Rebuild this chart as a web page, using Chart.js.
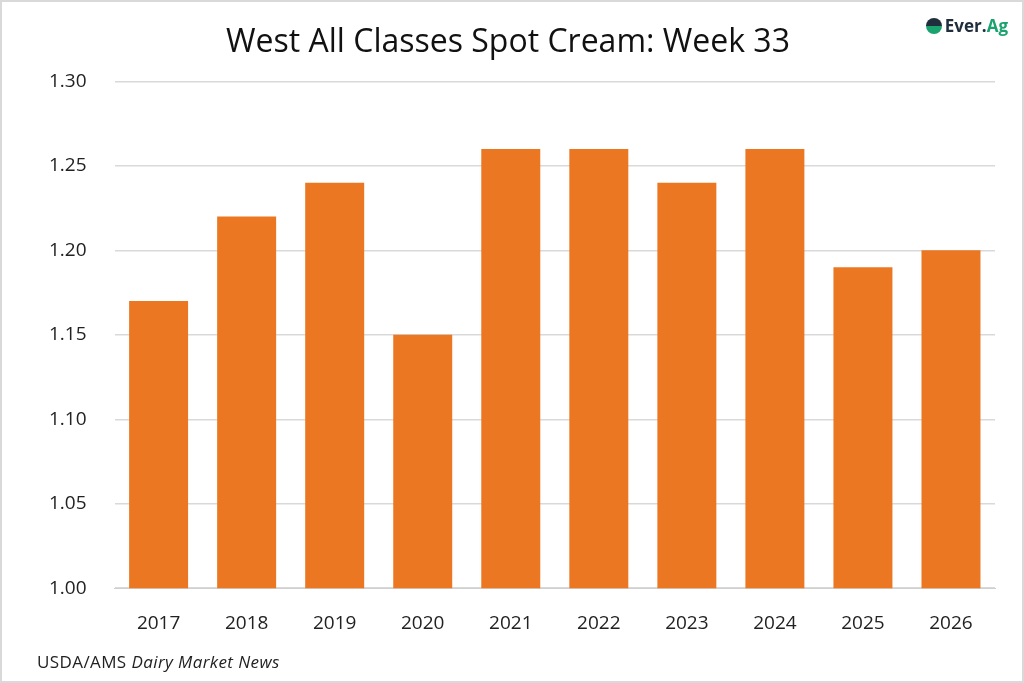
<!DOCTYPE html>
<html lang="en">
<head>
<meta charset="UTF-8">
<title>West All Classes Spot Cream: Week 33</title>
<script src="https://cdn.jsdelivr.net/npm/chart.js"></script>
<style>
  html, body { margin: 0; padding: 0; background: #fff; }
  #wrap { position: relative; width: 1020px; height: 679px; border: 2px solid #d9d9d9; font-family: "Open Sans", sans-serif; }
  canvas { display: block; }
  #logo { position: absolute; top: 12px; right: 14px; font: 700 17px "Open Sans", sans-serif; color: #1f2d3d; display: flex; align-items: center; gap: 3px; }
  #logo .ag { color: #1aa36f; }
  #logo .mark { width: 16px; height: 16px; border-radius: 50%; background: linear-gradient(#1f2d3d 0 50%, #1aa36f 50% 100%); }
  #source { position: absolute; left: 35px; top: 648px; font-size: 17px; letter-spacing: 0.4px; color: #222; }
</style>
</head>
<body>
<div id="wrap">
  <canvas id="chart" width="1020" height="679"></canvas>
  <div id="logo"><span class="mark"></span><span>Ever.<span class="ag">Ag</span></span></div>
  <div id="source">USDA/AMS <i>Dairy Market News</i></div>
</div>
<script>
const years = ["2017", "2018", "2019", "2020", "2021", "2022", "2023", "2024", "2025", "2026"];
const creamPrice = [1.17, 1.22, 1.24, 1.15, 1.26, 1.26, 1.24, 1.26, 1.19, 1.20];
const chartTitle = "West All Classes Spot Cream: Week 33";

new Chart(document.getElementById("chart"), {
  type: "bar",
  data: {
    labels: years,
    datasets: [{
      data: creamPrice,
      backgroundColor: "#ec7723",
      categoryPercentage: 1.0,
      barPercentage: 0.67
    }]
  },
  options: {
    responsive: false,
    animation: false,
    layout: { padding: { left: 19, right: 27, top: 8, bottom: 30 } },
    plugins: {
      legend: { display: false },
      tooltip: { enabled: false },
      title: {
        display: true,
        text: chartTitle,
        color: "#111",
        font: { family: "Open Sans", size: 32, weight: "normal" },
        padding: { top: 14, bottom: 19 }
      }
    },
    scales: {
      x: {
        grid: { display: false },
        border: { color: "#d0d0d0" },
        ticks: { color: "#222", font: { family: "Open Sans", size: 19 }, padding: 16 }
      },
      y: {
        min: 1.0,
        max: 1.3,
        grid: { color: "#d9d9d9", lineWidth: 1.5, drawTicks: false },
        border: { display: false },
        ticks: {
          stepSize: 0.05,
          color: "#222",
          padding: 28,
          font: { family: "Open Sans", size: 19 },
          callback: v => v.toFixed(2)
        }
      }
    }
  }
});
</script>
</body>
</html>
